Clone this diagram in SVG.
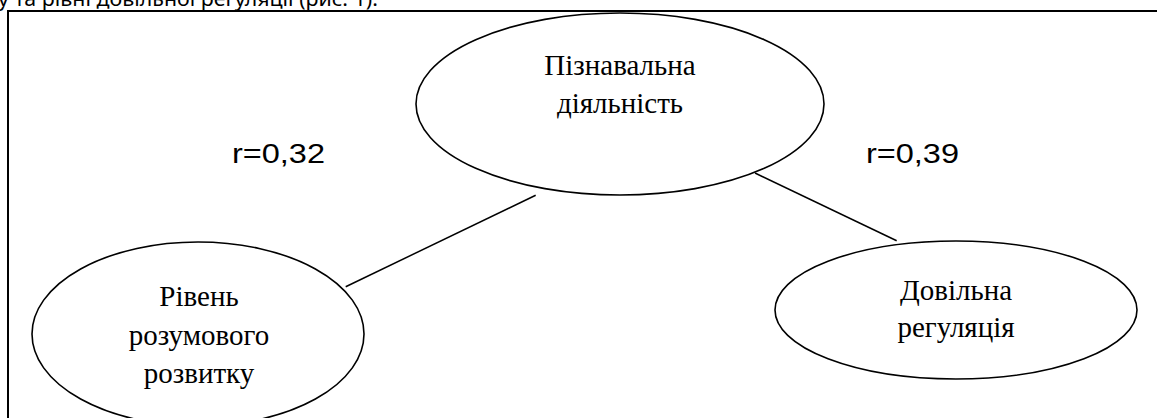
<svg xmlns="http://www.w3.org/2000/svg" width="1157" height="418" viewBox="0 0 1157 418">
<style>
.node{fill:#fff;stroke:#000;stroke-width:1.6}
.conn{stroke:#000;stroke-width:1.5;fill:none}
</style>
<defs/>
<rect width="1157" height="418" fill="#fff"/>
<text x="-2" y="6" font-family="Noto Sans, Open Sans, sans-serif" font-size="19" fill="#000" textLength="380" lengthAdjust="spacingAndGlyphs">у та рівні довільної регуляції (рис. 1).</text>
<path d="M8,418 V11 H1157" fill="none" stroke="#000" stroke-width="2"/>
<g id="connectors">
<line class="conn" x1="535.7" y1="195.3" x2="345.7" y2="286.7"/>
<line class="conn" x1="755" y1="173" x2="896.7" y2="240.7"/>
</g>
<g font-family="Liberation Serif, Times New Roman, serif" font-size="29" fill="#000" text-anchor="middle">
<g id="node-top">
<ellipse class="node" cx="620" cy="104" rx="204" ry="91"/>
<text x="620" y="75">Пізнавальна</text>
<text x="620" y="113">діяльність</text>
</g>
<g id="node-left">
<ellipse class="node" cx="198" cy="334" rx="166" ry="92"/>
<text x="199" y="306">Рівень</text>
<text x="199" y="345">розумового</text>
<text x="199" y="383">розвитку</text>
</g>
<g id="node-right">
<ellipse class="node" cx="956" cy="310" rx="181" ry="69"/>
<text x="956" y="300">Довільна</text>
<text x="956" y="337">регуляція</text>
</g>
</g>
<g id="labels" font-family="Liberation Sans, Arial, sans-serif" font-size="27" fill="#000">
<text x="232" y="163" textLength="93" lengthAdjust="spacingAndGlyphs">r=0,32</text>
<text x="866" y="163" textLength="93" lengthAdjust="spacingAndGlyphs">r=0,39</text>
</g>
</svg>
